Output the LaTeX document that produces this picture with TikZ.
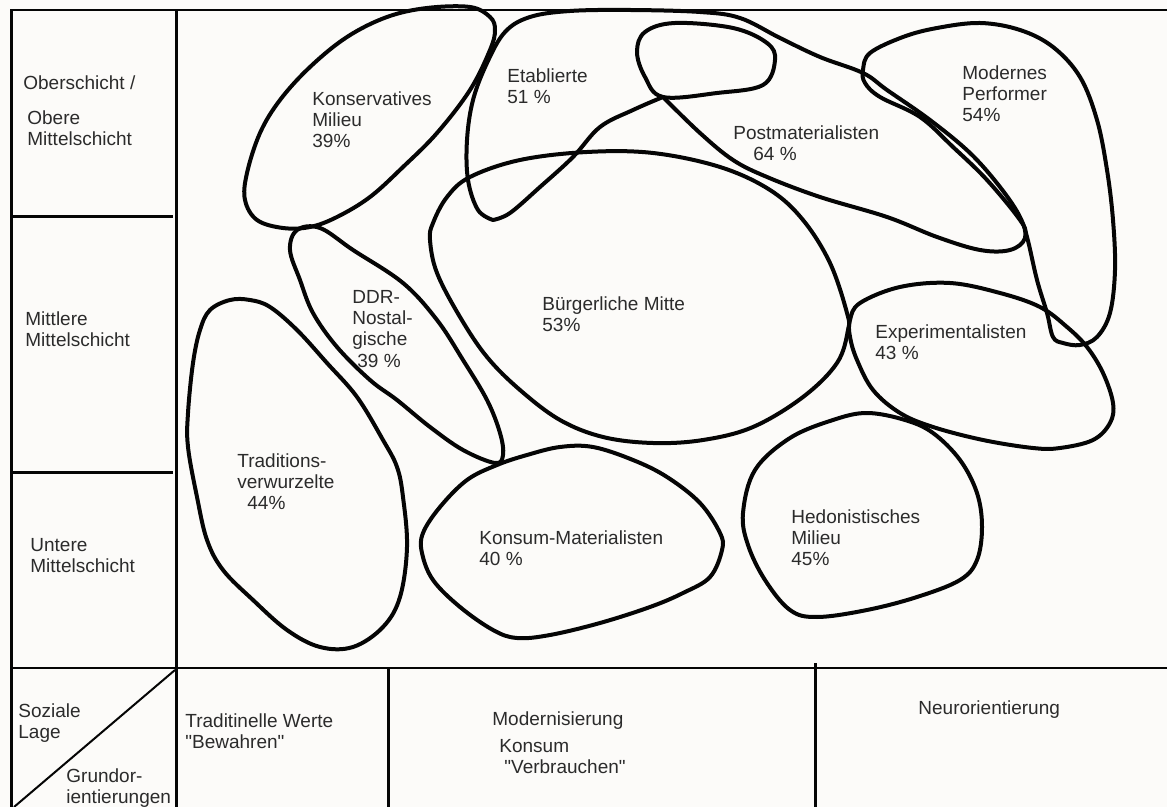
\documentclass[tikz,border=0pt]{standalone}
\usepackage{fontspec}
\setmainfont{Liberation Sans}
\usepackage{xcolor}
\usepackage{tikz}
\definecolor{paper}{HTML}{FCFBF9}
\definecolor{ink}{HTML}{050505}

\begin{document}
\begin{tikzpicture}[
        x=0.5pt, y=-0.5pt,
        label/.style={anchor=north west, inner sep=0pt, align=left,
                      text=ink!85, font=\fontsize{9.5}{10.6}\selectfont},
        grid/.style={draw=ink, line width=1.5pt},
        thin grid/.style={draw=ink, line width=1pt},
        blob/.style={draw=ink, line width=2pt, line join=round},
    ]
    \useasboundingbox (0,0) rectangle (1167,807);
    \fill[paper] (0,0) rectangle (1167,807);

    % frame
    \draw[thin grid] (10,10) -- (1167,10);
    \draw[grid] (11,10) -- (11,807);
    \draw[grid] (176,10) -- (176,807);
    \draw[grid] (11,217) -- (173,217);
    \draw[grid] (11,472) -- (173,472);
    \draw[draw=ink, line width=1.2pt] (11,668) -- (1167,668);
    \draw[grid] (388,668) -- (388,807);
    \draw[grid] (815,663) -- (815,807);
    \draw[thin grid] (14,807) -- (175,670);

    % milieus
    \draw[blob] plot[smooth cycle, tension=0.6] coordinates {
        (495,30) (490,50) (470,90) (437,133) (403,167) (370,197) (337,217)
        (310,227) (283,228) (257,220) (245,200) (247,173) (260,133) (280,100)
        (310,67) (347,37) (387,17) (427,8) (470,7) (490,17)};
    \draw[blob] plot[smooth, tension=0.6] coordinates {
        (663,97) (633,110) (600,127) (573,157) (540,187) (510,213) (493,220)}
        -- plot[smooth, tension=0.6] coordinates {
        (493,220) (478,210) (468,180) (467,140) (473,100) (487,63) (505,32)
        (530,17) (570,11) (630,10) (700,12) (740,18) (780,38) (820,57)
        (863,73) (887,90) (930,120) (970,153) (1000,187) (1020,217)
        (1025,238) (1010,250) (980,250) (937,237) (887,217) (820,197)
        (767,177) (733,160) (700,133) (663,97)} -- cycle;
    \draw[blob] plot[smooth cycle, tension=0.6] coordinates {
        (663,97) (645,77) (637,52) (645,32) (675,23) (733,28) (767,43)
        (775,60) (763,85) (717,93)};
    \draw[blob] plot[smooth cycle, tension=0.6] coordinates {
        (863,70) (870,53) (903,37) (937,28) (980,23) (1020,30) (1053,47)
        (1080,77) (1097,120) (1107,170) (1113,220) (1115,270) (1110,313)
        (1097,337) (1080,345) (1063,343) (1053,337) (1047,313) (1037,280)
        (1027,237) (1020,220) (987,180) (953,147) (920,117) (880,97) (865,83)};
    \draw[blob] plot[smooth cycle, tension=0.6] coordinates {
        (433,223) (447,197) (470,177) (520,160) (587,152) (653,153) (720,167)
        (770,190) (803,220) (830,263) (847,313) (848,330) (837,363) (803,397)
        (753,427) (703,440) (653,443) (603,437) (560,420) (520,390) (487,357)
        (460,317) (437,273) (430,240)};
    \draw[blob] plot[smooth cycle, tension=0.6] coordinates {
        (297,230) (320,228) (353,250) (403,283) (437,320) (463,360) (487,400)
        (500,433) (503,455) (495,463) (463,450) (430,427) (397,400) (370,380)
        (337,347) (313,313) (300,280) (290,250)};
    \draw[blob] plot[smooth cycle, tension=0.6] coordinates {
        (850,337) (850,320) (860,303) (900,287) (950,283) (1000,293) (1040,307)
        (1067,327) (1087,347) (1103,373) (1113,403) (1110,423) (1093,440)
        (1060,448) (1033,448) (983,440) (933,427) (900,413) (873,390) (857,360)};
    \draw[blob] plot[smooth cycle, tension=0.6] coordinates {
        (230,300) (210,310) (200,330) (193,363) (188,413) (188,447) (197,497)
        (207,540) (223,570) (253,600) (287,630) (320,647) (353,647) (383,627)
        (400,597) (407,547) (403,497) (397,467) (383,440) (357,397) (327,363)
        (297,330) (270,307) (250,300)};
    \draw[blob] plot[smooth cycle, tension=0.6] coordinates {
        (497,465) (467,480) (440,507) (423,533) (422,553) (433,580) (460,607)
        (493,630) (517,638) (550,635) (600,623) (650,607) (683,593) (710,577)
        (722,550) (720,533) (700,503) (667,477) (633,460) (593,447) (560,447)
        (527,455)};
    \draw[blob] plot[smooth cycle, tension=0.6] coordinates {
        (743,513) (755,470) (790,438) (833,420) (867,413) (905,420) (933,433)
        (960,460) (977,493) (982,527) (977,560) (960,580) (917,597) (867,610)
        (817,617) (790,610) (765,580) (748,545)};

    % row and column headings
    \node[label] (ober) at (23,75) {Oberschicht /};
    \node[label] (obere) at (27,110) {Obere\\Mittelschicht};
    \node[label] (mittlere) at (25,311) {Mittlere\\Mittelschicht};
    \node[label] (untere) at (30,538) {Untere\\Mittelschicht};
    \node[label] (sozial) at (18,703) {Soziale\\Lage};
    \node[label] (grund) at (66,768) {Grundor-\\ientierungen};
    \node[label] (trad) at (185,713)
        {Traditinelle Werte\\\textquotedbl Bewahren\textquotedbl};
    \node[label] (modern) at (492,711)
        {Modernisierung\\[3pt]\hspace{3.5pt}Konsum\\\hspace{6pt}\textquotedbl Verbrauchen\textquotedbl};
    \node[label] (neu) at (918,700) {Neurorientierung};

    % milieu labels
    \node[label] (konserv) at (312,91) {Konservatives\\Milieu\\39\%};
    \node[label] (etabl) at (507,68) {Etablierte\\51 \%};
    \node[label] (postmat) at (733,125) {Postmaterialisten\\\hspace{10pt}64 \%};
    \node[label] (perform) at (962,65) {Modernes\\Performer\\54\%};
    \node[label] (ddr) at (352,290) {DDR-\\Nostal-\\gische\\\hspace{2.5pt}39 \%};
    \node[label] (buerger) at (542,296) {Bürgerliche Mitte\\53\%};
    \node[label] (experim) at (875,324) {Experimentalisten\\43 \%};
    \node[label] (tradverw) at (237,453) {Traditions-\\verwurzelte\\\hspace{5pt}44\%};
    \node[label] (konsum) at (479,530) {Konsum-Materialisten\\40 \%};
    \node[label] (hedon) at (791,509) {Hedonistisches\\Milieu\\45\%};
\end{tikzpicture}
\end{document}
